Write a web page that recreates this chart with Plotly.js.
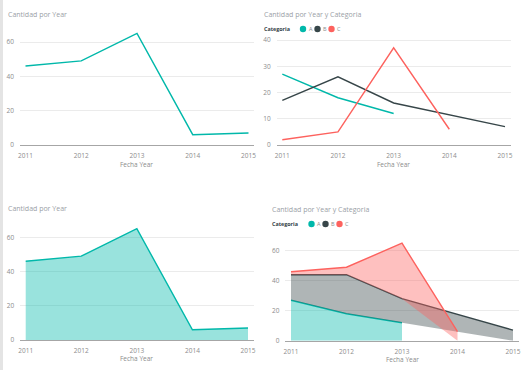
<!DOCTYPE html>
<html>
<head>
<meta charset="utf-8">
<script src="https://cdn.plot.ly/plotly-3.0.1.min.js"></script>
<style>
html,body{margin:0;padding:0;background:#fff;}
#chart{width:531px;height:370px;}
</style>
</head>
<body>
<div id="chart"></div>
<script>
// ---- data ----
const years = [2011, 2012, 2013, 2014, 2015];
const yearLabels = ['2011', '2012', '2013', '2014', '2015'];
const totalQty = [46, 49, 65, 6, 7];
const categories = ['A', 'B', 'C'];
const catA = [27, 18, 12, null, null];
const catB = [17, 26, 16, null, 7];
const catC = [2, 5, 37, 6, null];
const titleTotal = 'Cantidad por Year';
const titleCat = 'Cantidad por Year y Categoria';
const xTitle = 'Fecha Year';
const legendTitle = 'Categoria';

// ---- style ----
const W = 531, H = 370;
const catColors = ['#01B8AA', '#374649', '#FD625E'];
const catFills = ['rgba(1,184,170,0.4)', 'rgba(55,70,73,0.4)', 'rgba(253,98,94,0.4)'];
const FONT = 'Open Sans, Noto Sans, sans-serif';
const px = v => v / W;
const py = v => 1 - v / H;

const catSeries = [catA, catB, catC];

const traces = [];
// Top-left: line
traces.push({x: years, y: totalQty, type: 'scatter', mode: 'lines', xaxis: 'x', yaxis: 'y',
  line: {color: catColors[0], width: 1.4}, showlegend: false});
// Top-right: lines by category
catSeries.forEach((s, i) => {
  traces.push({x: years, y: s, type: 'scatter', mode: 'lines', xaxis: 'x2', yaxis: 'y2',
    connectgaps: true, line: {color: catColors[i], width: 1.4}, name: categories[i], showlegend: false});
});
// Bottom-left: area
traces.push({x: years, y: totalQty, type: 'scatter', mode: 'lines', xaxis: 'x3', yaxis: 'y3',
  fill: 'tozeroy', fillcolor: 'rgba(1,184,170,0.4)', line: {color: catColors[0], width: 1.4}, showlegend: false});
// Bottom-right: stacked areas (bases from previous categories)
catSeries.forEach((s, i) => {
  const xs = [], tops = [], bases = [];
  years.forEach((yr, j) => {
    if (s[j] === null) return;
    let base = 0;
    for (let k = 0; k < i; k++) base += (catSeries[k][j] || 0);
    xs.push(yr); bases.push(base); tops.push(base + s[j]);
  });
  traces.push({x: xs.concat(xs.slice().reverse()), y: tops.concat(bases.slice().reverse()),
    type: 'scatter', mode: 'lines', fill: 'toself', fillcolor: catFills[i],
    line: {width: 0, color: 'rgba(0,0,0,0)'}, xaxis: 'x4', yaxis: 'y4', showlegend: false});
  traces.push({x: xs, y: tops, type: 'scatter', mode: 'lines', xaxis: 'x4', yaxis: 'y4',
    line: {color: catColors[i], width: 1.4}, name: categories[i], showlegend: false});
});

function xax(x2011, x2015, anchor) {
  const ppy = (x2015 - x2011) / 4;
  const l = x2011 - 0.1 * ppy, r = x2015 + 0.1 * ppy;
  return {domain: [px(l), px(r)], range: [2010.9, 2015.1], anchor: anchor,
    tickmode: 'array', tickvals: years, ticktext: yearLabels, showgrid: false, zeroline: false,
    showline: true, linecolor: '#a6a6a6', linewidth: 1, ticks: '', ticklabelstandoff: 4,
    tickfont: {family: FONT, size: 6.5, color: '#8c8c8c'}, fixedrange: true};
}
function yax(y0px, ymax, pxPerUnit, dtick, anchor) {
  const top = y0px - ymax * pxPerUnit;
  return {domain: [py(y0px), py(top)], range: [0, ymax], anchor: anchor, dtick: dtick,
    showgrid: true, gridcolor: '#ebebeb', gridwidth: 1, zeroline: false, showline: false,
    ticks: '', ticklabelstandoff: 5, tickfont: {family: FONT, size: 6.5, color: '#8c8c8c'}, fixedrange: true};
}

const layout = {
  width: W, height: H, margin: {l: 0, r: 0, t: 0, b: 0},
  paper_bgcolor: '#fff', plot_bgcolor: 'rgba(0,0,0,0)', showlegend: false,
  xaxis: xax(25.5, 248.5, 'y'),
  yaxis: yax(145, 70, 103 / 60, 20, 'x'),
  xaxis2: xax(282.3, 505, 'y2'),
  yaxis2: yax(145, 45, 105 / 40, 10, 'x2'),
  xaxis3: xax(25.7, 248, 'y3'),
  yaxis3: yax(340, 70, 102.7 / 60, 20, 'x3'),
  xaxis4: xax(291, 513, 'y4'),
  yaxis4: yax(340.7, 72, 1.5, 20, 'x4'),
  shapes: [
    {type: 'rect', xref: 'paper', yref: 'paper', x0: 0, x1: px(3), y0: 0, y1: 1,
      fillcolor: '#e4e4e4', line: {width: 0}, layer: 'below'}
  ],
  annotations: []
};

function txt(x, y, t, opts) {
  layout.annotations.push(Object.assign({xref: 'paper', yref: 'paper', x: px(x), y: py(y), text: t,
    showarrow: false, xanchor: 'left', yanchor: 'middle', xshift: 0,
    font: {family: FONT, size: 7, color: '#9aa0a6'}}, opts || {}));
}
// Titles
txt(6, 14, titleTotal);
txt(262, 14, titleCat);
txt(6, 208, titleTotal);
txt(270, 209, titleCat);
// Axis titles
txt(137, 164, xTitle, {xanchor: 'center', font: {family: FONT, size: 6.5, color: '#8c8c8c'}});
txt(393, 164, xTitle, {xanchor: 'center', font: {family: FONT, size: 6.5, color: '#8c8c8c'}});
txt(137, 358, xTitle, {xanchor: 'center', font: {family: FONT, size: 6.5, color: '#8c8c8c'}});
txt(402, 359, xTitle, {xanchor: 'center', font: {family: FONT, size: 6.5, color: '#8c8c8c'}});

// Legends
function legend(x, y, dots) {
  txt(x, y, '<b>' + legendTitle + '</b>', {font: {family: FONT, size: 5.4, color: '#333d47'}});
  categories.forEach((c, i) => {
    const cx = dots[i];
    layout.shapes.push({type: 'circle', xref: 'paper', yref: 'paper',
      x0: px(cx - 3.2), x1: px(cx + 3.2), y0: py(y + 3.2), y1: py(y - 3.2),
      fillcolor: catColors[i], line: {width: 0}});
    txt(cx + 3.6, y, c, {font: {family: FONT, size: 5.5, color: '#8c8c8c'}});
  });
}
legend(262, 29, [303, 317.5, 331.5]);
legend(270, 224, [311.5, 325.5, 339.5]);

Plotly.newPlot('chart', traces, layout, {displayModeBar: false, staticPlot: true});
</script>
</body>
</html>
